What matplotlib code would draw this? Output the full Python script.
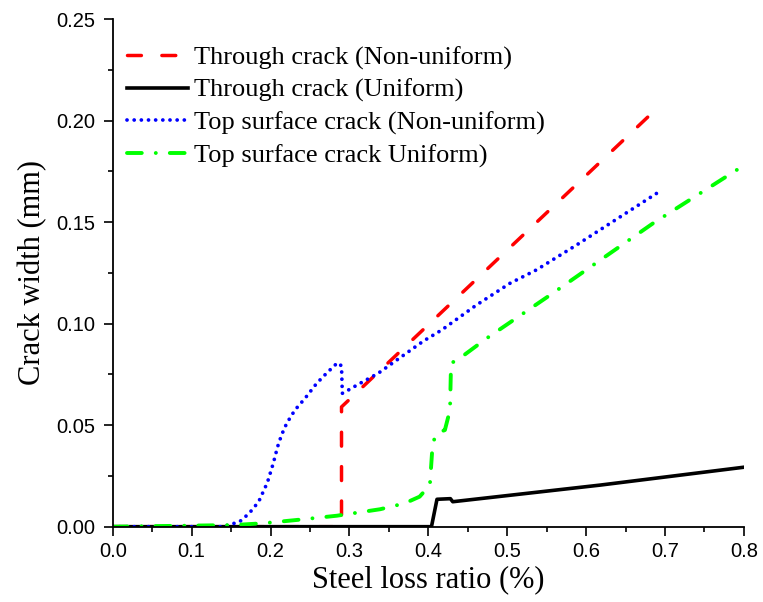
"""Crack width against steel loss ratio for through and top surface cracks"""

import matplotlib

matplotlib.use("agg")

import matplotlib.pyplot as plt  # noqa: E402
from matplotlib.ticker import MultipleLocator  # noqa: E402

# Through crack, non-uniform corrosion
red_x = [0.0, 0.290, 0.290, 0.695]
red_y = [0.0, 0.0, 0.059, 0.208]

# Through crack, uniform corrosion
black_x = [0.0, 0.404, 0.411, 0.428, 0.431, 0.618, 0.800]
black_y = [0.0, 0.0, 0.0135, 0.0138, 0.0123, 0.0205, 0.0293]

# Top surface crack, non-uniform corrosion
blue_x = [0.0, 0.140, 0.151, 0.161, 0.173, 0.185, 0.196, 0.2035, 0.209,
          0.214, 0.2205, 0.231, 0.2437, 0.2585, 0.271, 0.285, 0.290, 0.291,
          0.2986, 0.3134, 0.3366, 0.394, 0.417, 0.461, 0.5035, 0.537, 0.588,
          0.6945]
blue_y = [0.0, 0.0, 0.0013, 0.0025, 0.0066, 0.0123, 0.0217, 0.0312, 0.0394,
          0.0452, 0.0509, 0.0575, 0.0632, 0.0706, 0.0756, 0.0808, 0.0792,
          0.0657, 0.0673, 0.0706, 0.0756, 0.0915, 0.0969, 0.1092, 0.1199,
          0.1265, 0.1388, 0.1655]

# Top surface crack, uniform corrosion
green_x = [0.0, 0.153, 0.191, 0.233, 0.284, 0.339, 0.370, 0.389, 0.402,
           0.4055, 0.4106, 0.421, 0.4275, 0.4288, 0.440, 0.474, 0.554, 0.685,
           0.800]
green_y = [0.0, 0.0008, 0.0017, 0.0033, 0.0054, 0.0086, 0.0115, 0.0148,
           0.0205, 0.041, 0.046, 0.0476, 0.0575, 0.0805, 0.083, 0.0928, 0.114,
           0.1495, 0.178]

labels = [
    "Through crack (Non-uniform)",
    "Through crack (Uniform)",
    "Top surface crack (Non-uniform)",
    "Top surface crack Uniform)",
]

serif = ["Liberation Serif", "DejaVu Serif"]
sans = ["Liberation Sans", "DejaVu Sans"]

fig = plt.figure(figsize=(7.63, 6.02), dpi=100)
axes = fig.add_axes([0.1477, 0.1251, 0.8273, 0.8430])

axes.plot(red_x, red_y, color="#ff0000", lw=2.5, label=labels[0],
          linestyle=(0, (4.0, 5.9)), dash_capstyle="round")
axes.plot(black_x, black_y, color="black", lw=2.6, label=labels[1])
axes.plot(blue_x, blue_y, color="#0000ff", lw=2.7, label=labels[2],
          linestyle=(0, (0.01, 1.9)), dash_capstyle="round")
axes.plot(green_x, green_y, color="#00ff00", lw=2.8, label=labels[3],
          linestyle=(0, (3.8, 3.6, 0.01, 3.6)), dash_capstyle="round")

axes.set_xlim(0, 0.8)
axes.set_ylim(0, 0.25)
axes.xaxis.set_major_locator(MultipleLocator(0.1))
axes.xaxis.set_minor_locator(MultipleLocator(0.05))
axes.yaxis.set_major_locator(MultipleLocator(0.05))
axes.yaxis.set_minor_locator(MultipleLocator(0.025))
axes.xaxis.set_major_formatter(lambda v, pos: f"{v:.1f}")
axes.yaxis.set_major_formatter(lambda v, pos: f"{v:.2f}")

for side in ("top", "right"):
    axes.spines[side].set_visible(False)
for side in ("left", "bottom"):
    axes.spines[side].set_linewidth(1.3)

axes.tick_params(which="major", direction="out", length=6.8, width=1.2,
                 labelsize=14.5)
axes.tick_params(axis="y", which="major", pad=6)
axes.tick_params(axis="x", which="major", pad=4)
axes.tick_params(which="minor", direction="out", length=3.6, width=1.2)
for tick in axes.get_xticklabels() + axes.get_yticklabels():
    tick.set_family(sans)

axes.set_xlabel("Steel loss ratio (%)", family=serif, fontsize=22, labelpad=3)
axes.set_ylabel("Crack width (mm)", family=serif, fontsize=22, labelpad=6)

axes.legend(loc="upper left", bbox_to_anchor=(0.006, 0.968), frameon=False,
            prop={"family": serif, "size": 19}, handlelength=2.3,
            handletextpad=0.25, labelspacing=0.33, borderaxespad=0)

fig.savefig("out.png", dpi=100)
